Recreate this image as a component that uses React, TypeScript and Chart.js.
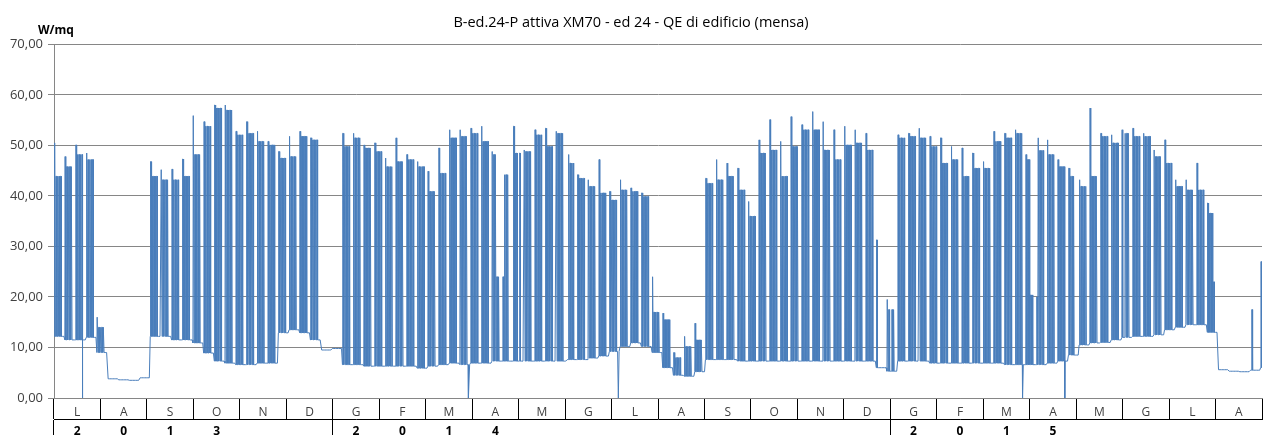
import React, { useEffect, useRef } from 'react';
import { Chart, registerables } from 'chart.js';

Chart.register(...registerables);

const TITLE = 'B-ed.24-P attiva XM70 - ed 24 - QE di edificio (mensa)';
const UNIT = 'W/mq';

// Month initials (Italian) from July 2013 to August 2015
const MONTHS = ['L', 'A', 'S', 'O', 'N', 'D', 'G', 'F', 'M', 'A', 'M', 'G', 'L', 'A', 'S', 'O', 'N', 'D', 'G', 'F', 'M', 'A', 'M', 'G', 'L', 'A'];
// Year row: digits spread under the months
const YEAR_ROW = ['2', '0', '1', '3', '', '', '2', '0', '1', '4', '', '', '', '', '', '', '', '', '2', '0', '1', '5', '', '', '', ''];
const YEAR_BREAKS = [0, 6, 18];

const Y_MIN = 0;
const Y_MAX = 70;
const Y_STEP = 10;

// Days from 1 Jul 2013 (a Monday) to 31 Aug 2015
const TOTAL_DAYS = 792;

// Weekly values (week 0 starts Mon 1 Jul 2013), W/mq
// peak of the first working day of the week
const WEEK_TOP = [
  50.5, 47.8, 50.1, 48.5, 16, 0, 0, 0, 0, 46.8,
  45.2, 45.3, 47.3, 55.9, 54.7, 58, 58, 52.8, 54.7, 52.8,
  50.8, 48.8, 51.8, 52.8, 51.5, 0, 0, 52.4, 52.4, 50.1,
  50.5, 47.5, 51.5, 48.2, 46.8, 44.9, 49.5, 53.1, 53.1, 53.4,
  53.8, 48.8, 44.2, 53.8, 49.1, 53.1, 53.4, 52.8, 48.2, 44.2,
  43.2, 47.2, 40.9, 43.2, 41.6, 40.6, 24, 16.8, 9, 12.2,
  14.8, 43.5, 47.2, 46.5, 45.5, 38.9, 51.1, 55.1, 50.8, 55.7,
  54.1, 56.7, 54.7, 53.1, 53.8, 53.1, 52.4, 31.3, 19.5, 52.1,
  52.4, 53.4, 51.8, 51.5, 49.8, 49.5, 48.5, 46.8, 52.8, 52.4,
  53.1, 48.2, 51.5, 51.1, 47.2, 45.5, 43.2, 57.4, 52.4, 52.1,
  53.1, 53.4, 52.4, 49.1, 51.1, 43.2, 43.2, 46.5, 38.6, 0,
  0, 0, 17.5, 27,
];
// peak of the other working days of the week
const WEEK_MAIN = [
  43.9, 45.8, 48.2, 47.2, 14, 0, 0, 0, 0, 43.9,
  43.2, 43.2, 43.9, 48.2, 53.8, 57.4, 57, 52.1, 52.4, 50.8,
  50.1, 47.5, 47.8, 51.8, 51.1, 0, 0, 49.8, 51.5, 49.5,
  48.8, 45.8, 46.8, 47.2, 45.8, 40.9, 44.5, 51.5, 51.8, 52.4,
  50.8, 48.2, 44.2, 48.5, 48.8, 52.1, 49.8, 52.4, 46.5, 43.5,
  41.9, 40.6, 39.2, 41.2, 40.9, 39.9, 17, 15.5, 8, 10.2,
  11.5, 42.5, 43.2, 43.9, 41.2, 36, 48.5, 49.1, 43.9, 49.8,
  53.1, 53.1, 49.1, 47.2, 50.1, 50.5, 49.1, 31.3, 17.5, 51.5,
  51.8, 51.5, 49.8, 46.5, 47.2, 43.9, 45.5, 45.5, 50.8, 51.5,
  52.4, 47.2, 49, 48.2, 45.8, 43.9, 41.9, 43.9, 51.8, 50.5,
  52.4, 51.8, 51.8, 47.8, 46.5, 41.9, 41.2, 41.2, 36.6, 0,
  0, 0, 17.5, 27,
];
// night / weekend base load
const WEEK_BASE = [
  12.2, 11.5, 11.5, 12, 9, 3.8, 3.6, 3.5, 4, 12.2,
  12.2, 11.5, 11.5, 10.9, 8.9, 7.3, 6.9, 6.6, 6.6, 6.9,
  6.9, 12.9, 13.5, 12.9, 11.5, 9.5, 9.8, 6.6, 6.6, 6.3,
  6.3, 6.3, 6.3, 6.3, 5.9, 6.3, 6.6, 6.9, 6.6, 6.9,
  6.9, 7.3, 7.3, 7.3, 7.3, 7.3, 7.3, 7.3, 7.6, 7.6,
  7.9, 8.3, 9.2, 10.2, 10.9, 10.2, 9, 6, 4.5, 4.3,
  5.2, 7.6, 7.6, 7.6, 7.3, 7.3, 7.3, 7.3, 7.3, 7.3,
  7.3, 7.3, 7.3, 7.3, 7.3, 7.3, 7.3, 6, 5.3, 7.3,
  7.3, 7.3, 6.9, 6.9, 6.9, 6.9, 6.9, 6.9, 6.9, 6.6,
  6.6, 6.6, 6.6, 6.9, 7.3, 8.5, 10.5, 10.9, 11, 11.5,
  12, 12.2, 12.2, 12.5, 13.5, 14, 14.5, 14.5, 13, 5.6,
  5.3, 5.2, 5.5, 6,
];
// weeks with holidays: [week, Mon..Fri mask (1 work, 2 reduced, 0 off), reduced peak]
const WEEK_EXCEPTIONS: [number, string, number][] = [
  [41, '11122', 24],
  [42, '21110', 24],
  [43, '11101', 0],
  [48, '01111', 0],
  [77, '10000', 0],
  [78, '11011', 0],
  [91, '11122', 20.4],
  [92, '21111', 20],
  [95, '11110', 0],
  [100, '10111', 0],
  [108, '11112', 23],
  [112, '01000', 0],
  [113, '1', 0],
];
// short drops to zero (day index)
const DROPOUT_DAYS = [18.6, 271.7, 370, 635, 662.8];

function buildPoints() {
  const pts: { x: number; y: number }[] = [];
  for (let d = 0; d < TOTAL_DAYS; d++) {
    const w = Math.floor(d / 7);
    const i = d % 7;
    const base = WEEK_BASE[w];
    const ex = WEEK_EXCEPTIONS.find((e) => e[0] === w);
    const mask = ex ? ex[1] : WEEK_TOP[w] > 0 ? '11111' : '00000';
    const c = i < 5 ? mask[i] : '0';
    if (!c || c === '0') {
      pts.push({ x: d + 0.5, y: base });
      continue;
    }
    let peak: number;
    if (c === '2' && ex) peak = ex[2];
    else peak = i === mask.indexOf('1') ? WEEK_TOP[w] : WEEK_MAIN[w];
    pts.push({ x: d + 0.1, y: base }, { x: d + 0.3, y: peak }, { x: d + 0.6, y: peak }, { x: d + 0.85, y: base });
  }
  DROPOUT_DAYS.forEach((x) => pts.push({ x, y: 0 }));
  pts.sort((a, b) => a.x - b.x);
  return pts;
}

const FONT = '"Open Sans", "DejaVu Sans", sans-serif';

const unitLabel = {
  id: 'unitLabel',
  afterDraw(chart: any) {
    const ctx = chart.ctx;
    ctx.save();
    ctx.font = `bold 12px ${FONT}`;
    ctx.fillStyle = '#000';
    ctx.textBaseline = 'middle';
    ctx.textAlign = 'left';
    ctx.fillText(UNIT, 38, 31);
    ctx.restore();
  },
};

export default function App() {
  const ref = useRef<HTMLCanvasElement>(null);
  useEffect(() => {
    document.body.style.margin = '0';
    if (!ref.current) return;
    const chart = new Chart(ref.current, {
      type: 'line',
      data: {
        datasets: [
          {
            data: buildPoints(),
            borderColor: '#4A7EBB',
            borderWidth: 1,
            pointRadius: 0,
            tension: 0,
            fill: false,
            xAxisID: 'x',
            yAxisID: 'y',
          },
        ],
      },
      options: {
        responsive: false,
        animation: false,
        parsing: false,
        normalized: true,
        layout: { padding: { left: 0, right: 2, top: 0, bottom: 0 } },
        plugins: {
          legend: { display: false },
          tooltip: { enabled: false },
          title: {
            display: true,
            text: TITLE,
            color: '#000',
            font: { family: FONT, size: 14.5, weight: 'normal' },
            padding: { top: 14, bottom: 13 },
          },
        },
        scales: {
          x: { type: 'linear', min: 0, max: TOTAL_DAYS, display: false },
          months: {
            type: 'category',
            labels: MONTHS,
            position: 'bottom',
            weight: 1,
            offset: true,
            grid: { offset: true, drawOnChartArea: false, tickLength: 21, color: '#000', lineWidth: 1 },
            border: { display: true, color: '#868686' },
            ticks: { padding: -14, autoSkip: false, maxRotation: 0, color: '#404040', font: { family: FONT, size: 12 } },
            afterFit: (s: any) => {
              s.height = 21;
            },
          },
          years: {
            type: 'category',
            labels: YEAR_ROW,
            position: 'bottom',
            weight: 2,
            offset: true,
            grid: {
              offset: true,
              drawOnChartArea: false,
              tickLength: 17,
              lineWidth: 1,
              color: (ctx: any) => (YEAR_BREAKS.includes(ctx.index) ? '#000' : 'rgba(0,0,0,0)'),
            },
            border: { display: true, color: '#000' },
            ticks: { padding: -12, autoSkip: false, maxRotation: 0, color: '#000', font: { family: FONT, size: 12, weight: 'bold' } },
            afterFit: (s: any) => {
              s.height = 16;
            },
          },
          y: {
            min: Y_MIN,
            max: Y_MAX,
            ticks: {
              stepSize: Y_STEP,
              padding: 5,
              color: '#404040',
              font: { family: FONT, size: 13 },
              callback: (v: any) => Number(v).toFixed(2).replace('.', ','),
            },
            grid: { color: '#868686', tickLength: 6, lineWidth: 1 },
            border: { display: true, color: '#868686' },
            afterFit: (s: any) => {
              s.width = 54;
            },
          },
        },
      },
      plugins: [unitLabel],
    } as any);
    return () => chart.destroy();
  }, []);
  return (
    <div style={{ width: 1264, height: 435 }}>
      <canvas ref={ref} width={1264} height={435} style={{ display: 'block' }} />
    </div>
  );
}
